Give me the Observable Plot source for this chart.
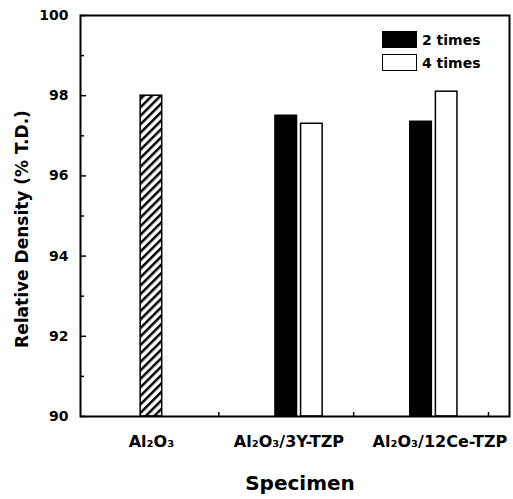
<!DOCTYPE html>
<html>
<head>
<meta charset="utf-8">
<script src="https://cdn.jsdelivr.net/npm/d3@7"></script>
<script src="https://cdn.jsdelivr.net/npm/@observablehq/plot@0.6"></script>
<style>
  body { margin: 0; background: #fff; }
  #wrap { position: relative; width: 513px; height: 499px; font-family: "DejaVu Sans", sans-serif; font-weight: bold; }
  .legend { position: absolute; left: 382px; top: 28px; font-size: 14px; color: #000; }
  .legend .row { display: flex; align-items: center; height: 23px; }
  .legend .sw { width: 35px; height: 17px; box-sizing: border-box; border: 1.5px solid #000; margin-right: 5px; }
</style>
</head>
<body>
<div id="wrap"></div>
<script>
// ---- data ----
const specimens = ["Al₂O₃", "Al₂O₃/3Y-TZP", "Al₂O₃/12Ce-TZP"];
const seriesNames = ["2 times", "4 times"];
const seriesColors = ["#000000", "#ffffff"];
const aluminaDensity = [98.0];                 // Al2O3 (hatched bar)
const density2Times = [null, 97.5, 97.35];     // 2 times
const density4Times = [null, 97.3, 98.1];      // 4 times
const yMajorTicks = [90, 92, 94, 96, 98, 100];
const yMinorTicks = [91, 93, 95, 97, 99];
const yLabel = "Relative Density (% T.D.)";
const xLabel = "Specimen";

// ---- build table ----
const barW = 0.16;
const seriesOffset = [0, 0.19];
const bars = [];
aluminaDensity.forEach((v, i) => bars.push({specimen: specimens[i], cat: i + 1, off: 0, value: v, kind: "hatch"}));
[density2Times, density4Times].forEach((arr, s) => {
  arr.forEach((v, i) => {
    if (v != null) bars.push({specimen: specimens[i], cat: i + 1, off: seriesOffset[s], value: v, kind: seriesNames[s], fill: seriesColors[s]});
  });
});
const labelShift = [0, 0.02, 0.14];
const labels = specimens.map((s, i) => ({name: s, x: i + 1 + labelShift[i]}));
const yMin = 90, yMax = 100;

const plot = Plot.plot({
  width: 513,
  height: 499,
  marginLeft: 80,
  marginRight: 4,
  marginTop: 15,
  marginBottom: 83,
  style: {fontFamily: "DejaVu Sans, sans-serif", fontWeight: "bold", color: "#000", background: "#fff"},
  x: {type: "linear", domain: [0.474, 3.656], axis: null},
  y: {domain: [yMin, yMax], axis: null},
  marks: [
    Plot.rect(bars.filter(d => d.kind !== "hatch"), {
      x1: d => d.cat + d.off - barW / 2,
      x2: d => d.cat + d.off + barW / 2,
      y1: () => yMin,
      y2: d => d.value,
      fill: d => d.fill,
      stroke: "#000",
      strokeWidth: 1.5
    }),
    Plot.rect(bars.filter(d => d.kind === "hatch"), {
      x1: d => d.cat + d.off - barW / 2,
      x2: d => d.cat + d.off + barW / 2,
      y1: () => yMin,
      y2: d => d.value,
      fill: "#fff",
      stroke: "#000",
      strokeWidth: 1.5,
      className: "hatched"
    }),
    Plot.axisY({ticks: yMajorTicks, tickSize: 0, tickPadding: 12, fontSize: 14, label: null, tickFormat: d => d}),
    Plot.axisY({ticks: yMajorTicks, tickSize: -6, text: null, label: null, strokeWidth: 1.5}),
    Plot.axisY({ticks: yMinorTicks, tickSize: -4, text: null, label: null, strokeWidth: 1.5}),
    Plot.axisX({ticks: [1.5, 2.5, 3.5], tickSize: -4, text: null, label: null, strokeWidth: 1.5}),
    Plot.text(labels, {x: "x", text: "name", frameAnchor: "bottom", dy: 25, fontSize: 16, lineAnchor: "middle"}),
    Plot.text([xLabel], {text: d => d, frameAnchor: "bottom", dy: 67, fontSize: 20, lineAnchor: "middle", dx: 5}),
    Plot.text([yLabel], {text: d => d, frameAnchor: "left", textAnchor: "middle", rotate: -90, dx: -58, dy: 13, fontSize: 17, lineAnchor: "middle"}),
    Plot.frame({stroke: "#000", strokeWidth: 2})
  ]
});

// hatch pattern
const svg = d3.select(plot);
const defs = svg.insert("defs", ":first-child");
const pat = defs.append("pattern")
  .attr("id", "hatch")
  .attr("patternUnits", "userSpaceOnUse")
  .attr("width", 6).attr("height", 6)
  .attr("patternTransform", "rotate(45)");
pat.append("rect").attr("width", 6).attr("height", 6).attr("fill", "#fff");
pat.append("line").attr("x1", 0).attr("y1", 0).attr("x2", 0).attr("y2", 6)
  .attr("stroke", "#000").attr("stroke-width", 5);
svg.selectAll(".hatched rect").attr("fill", "url(#hatch)");

const wrap = document.getElementById("wrap");
wrap.appendChild(plot);

// legend
const legend = document.createElement("div");
legend.className = "legend";
seriesNames.forEach((name, i) => {
  const row = document.createElement("div");
  row.className = "row";
  const sw = document.createElement("div");
  sw.className = "sw";
  sw.style.background = seriesColors[i];
  const t = document.createElement("span");
  t.textContent = name;
  row.appendChild(sw);
  row.appendChild(t);
  legend.appendChild(row);
});
wrap.appendChild(legend);
</script>
</body>
</html>
